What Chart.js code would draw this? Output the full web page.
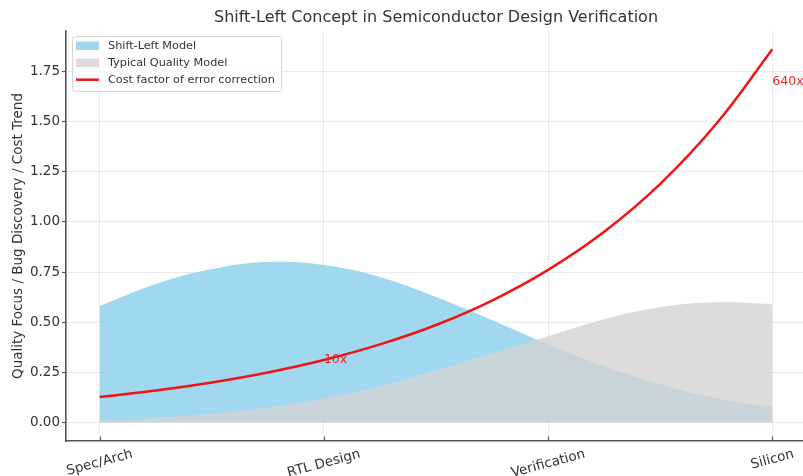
<!DOCTYPE html>
<html>
<head>
<meta charset="utf-8">
<title>Shift-Left Concept</title>
<script src="https://cdn.jsdelivr.net/npm/chart.js@4.4.1/dist/chart.umd.min.js"></script>
<style>
  html, body { margin: 0; padding: 0; background: #fff; overflow: hidden; }
  #wrap { width: 812px; height: 476px; }
</style>
</head>
<body>
<div id="wrap"><canvas id="chart" width="812" height="476"></canvas></div>
<script>
// stages along the x axis, placed at 0..3
var stageLabels = ['Spec/Arch', 'RTL Design', 'Verification', 'Silicon'];
var stagePos = [0, 1, 2, 3];

// sample points
var xSteps = [0, 0.25, 0.5, 0.75, 1, 1.25, 1.5, 1.75, 2, 2.25, 2.5, 2.75, 3];
var shiftLeft = [0.58, 0.69, 0.765, 0.80, 0.785, 0.725, 0.625, 0.51, 0.39, 0.28, 0.19, 0.12, 0.075];
var typicalQuality = [0.012, 0.023, 0.043, 0.073, 0.12, 0.18, 0.26, 0.345, 0.43, 0.515, 0.575, 0.60, 0.59];
var costFactor = [0.127, 0.159, 0.199, 0.249, 0.311, 0.389, 0.486, 0.608, 0.761, 0.951, 1.19, 1.49, 1.862];

var yTicks = [0, 0.25, 0.5, 0.75, 1, 1.25, 1.5, 1.75];

// red cost annotations
var noteX = [1, 3];
var noteY = [0.31, 1.70];
var noteText = ['10x', '640x'];

var FONT = "'DejaVu Sans', sans-serif";
var AXIS_COLOR = '#555';
var TEXT_COLOR = '#333';

function pts(ys) {
  return xSteps.map(function(x, i) { return {x: x, y: ys[i]}; });
}

// legend box, x tick labels (rotated, centred), inward x ticks, notes
var extras = {
  id: 'extras',
  afterDatasetDraw: function(chart, args) {
    if (args.index !== 1) return;
    var ctx = chart.ctx, xs = chart.scales.x, ys = chart.scales.y;
    ctx.save();
    ctx.font = '12.5px ' + FONT;
    ctx.fillStyle = '#e8262b';
    ctx.textAlign = 'left';
    ctx.textBaseline = 'middle';
    noteText.forEach(function(t, i) {
      ctx.fillText(t, xs.getPixelForValue(noteX[i]), ys.getPixelForValue(noteY[i]));
    });
    ctx.restore();
  },
  afterDatasetsDraw: function(chart) {
    var ctx = chart.ctx, area = chart.chartArea;
    var left = area.left + 6.5, top = area.top + 5.5;
    ctx.save();
    ctx.beginPath();
    ctx.roundRect(left, top, 209, 55, 3);
    ctx.fillStyle = 'rgba(255,255,255,0.8)';
    ctx.fill();
    ctx.strokeStyle = '#d4d4d4';
    ctx.lineWidth = 1;
    ctx.stroke();
    ctx.font = '11.25px ' + FONT;
    ctx.textBaseline = 'middle';
    ctx.textAlign = 'left';
    chart.data.datasets.forEach(function(ds, i) {
      var cy = top + 9 + i * 17.1;
      if (ds.fill) {
        ctx.fillStyle = ds.backgroundColor;
        ctx.fillRect(left + 3.5, cy - 4, 23, 8.5);
      } else {
        ctx.beginPath();
        ctx.moveTo(left + 3.5, cy);
        ctx.lineTo(left + 26.5, cy);
        ctx.strokeStyle = ds.borderColor;
        ctx.lineWidth = ds.borderWidth;
        ctx.stroke();
      }
      ctx.fillStyle = TEXT_COLOR;
      ctx.fillText(ds.label, left + 35.5, cy + 0.5);
    });
    ctx.restore();
  },
  afterDraw: function(chart) {
    var ctx = chart.ctx, xs = chart.scales.x, area = chart.chartArea;
    var rot = 15 * Math.PI / 180;
    ctx.save();
    ctx.strokeStyle = AXIS_COLOR;
    ctx.lineWidth = 1.2;
    stagePos.forEach(function(v) {
      var px = Math.round(xs.getPixelForValue(v)) + 0.5;
      ctx.beginPath();
      ctx.moveTo(px, area.bottom);
      ctx.lineTo(px, area.bottom - 4.5);
      ctx.stroke();
    });
    ctx.font = '13.5px ' + FONT;
    ctx.fillStyle = TEXT_COLOR;
    ctx.textAlign = 'center';
    ctx.textBaseline = 'middle';
    stageLabels.forEach(function(lbl, i) {
      var px = xs.getPixelForValue(stagePos[i]);
      var w = ctx.measureText(lbl).width, h = 15.5;
      var bh = w * Math.sin(rot) + h * Math.cos(rot);
      ctx.save();
      ctx.translate(px, area.bottom + 5.5 + bh / 2);
      ctx.rotate(-rot);
      ctx.fillText(lbl, 0, 0);
      ctx.restore();
    });
    ctx.restore();
  }
};

var chart = new Chart(document.getElementById('chart'), {
  type: 'line',
  data: {
    datasets: [
      {
        label: 'Shift-Left Model',
        data: pts(shiftLeft),
        fill: 'origin',
        backgroundColor: 'rgba(135,206,235,0.8)',
        borderColor: 'transparent',
        borderWidth: 0,
        pointRadius: 0,
        tension: 0.4,
        order: 2
      },
      {
        label: 'Typical Quality Model',
        data: pts(typicalQuality),
        fill: 'origin',
        backgroundColor: 'rgba(211,211,211,0.8)',
        borderColor: 'transparent',
        borderWidth: 0,
        pointRadius: 0,
        tension: 0.4,
        order: 1
      },
      {
        label: 'Cost factor of error correction',
        data: pts(costFactor),
        fill: false,
        borderColor: '#f01414',
        borderWidth: 2.5,
        pointRadius: 0,
        tension: 0.4,
        order: 0
      }
    ]
  },
  options: {
    responsive: false,
    animation: false,
    devicePixelRatio: 1,
    layout: { padding: { left: 0, right: 6, top: 0, bottom: 0 } },
    plugins: {
      legend: { display: false },
      tooltip: { enabled: false },
      title: {
        display: true,
        text: 'Shift-Left Concept in Semiconductor Design Verification',
        fullSize: false,
        color: TEXT_COLOR,
        font: { family: FONT, size: 16, weight: 'normal' },
        padding: { top: 8.5, bottom: 3.3 }
      }
    },
    scales: {
      x: {
        type: 'linear',
        min: -0.15,
        max: 3.15,
        afterBuildTicks: function(scale) {
          scale.ticks = stagePos.map(function(v) { return {value: v}; });
        },
        afterFit: function(scale) { scale.height = 35; },
        ticks: { display: false },
        grid: { color: 'rgba(0,0,0,0.08)', drawTicks: false },
        border: { display: true, color: AXIS_COLOR, width: 1.6 }
      },
      y: {
        min: -0.093,
        max: 1.953,
        afterBuildTicks: function(scale) {
          scale.ticks = yTicks.map(function(v) { return {value: v}; });
        },
        afterFit: function(scale) { scale.width = 66; },
        ticks: {
          color: TEXT_COLOR,
          font: { family: FONT, size: 13.5 },
          padding: 2,
          callback: function(v) { return Number(v).toFixed(2); }
        },
        grid: { color: 'rgba(0,0,0,0.08)', tickLength: 4, tickColor: AXIS_COLOR, tickWidth: 1.2 },
        border: { display: true, color: AXIS_COLOR, width: 1.6 },
        title: {
          display: true,
          text: 'Quality Focus / Bug Discovery / Cost Trend',
          color: TEXT_COLOR,
          font: { family: FONT, size: 13.5 },
          padding: { top: 10, bottom: 0 }
        }
      }
    }
  },
  plugins: [extras]
});
</script>
</body>
</html>
